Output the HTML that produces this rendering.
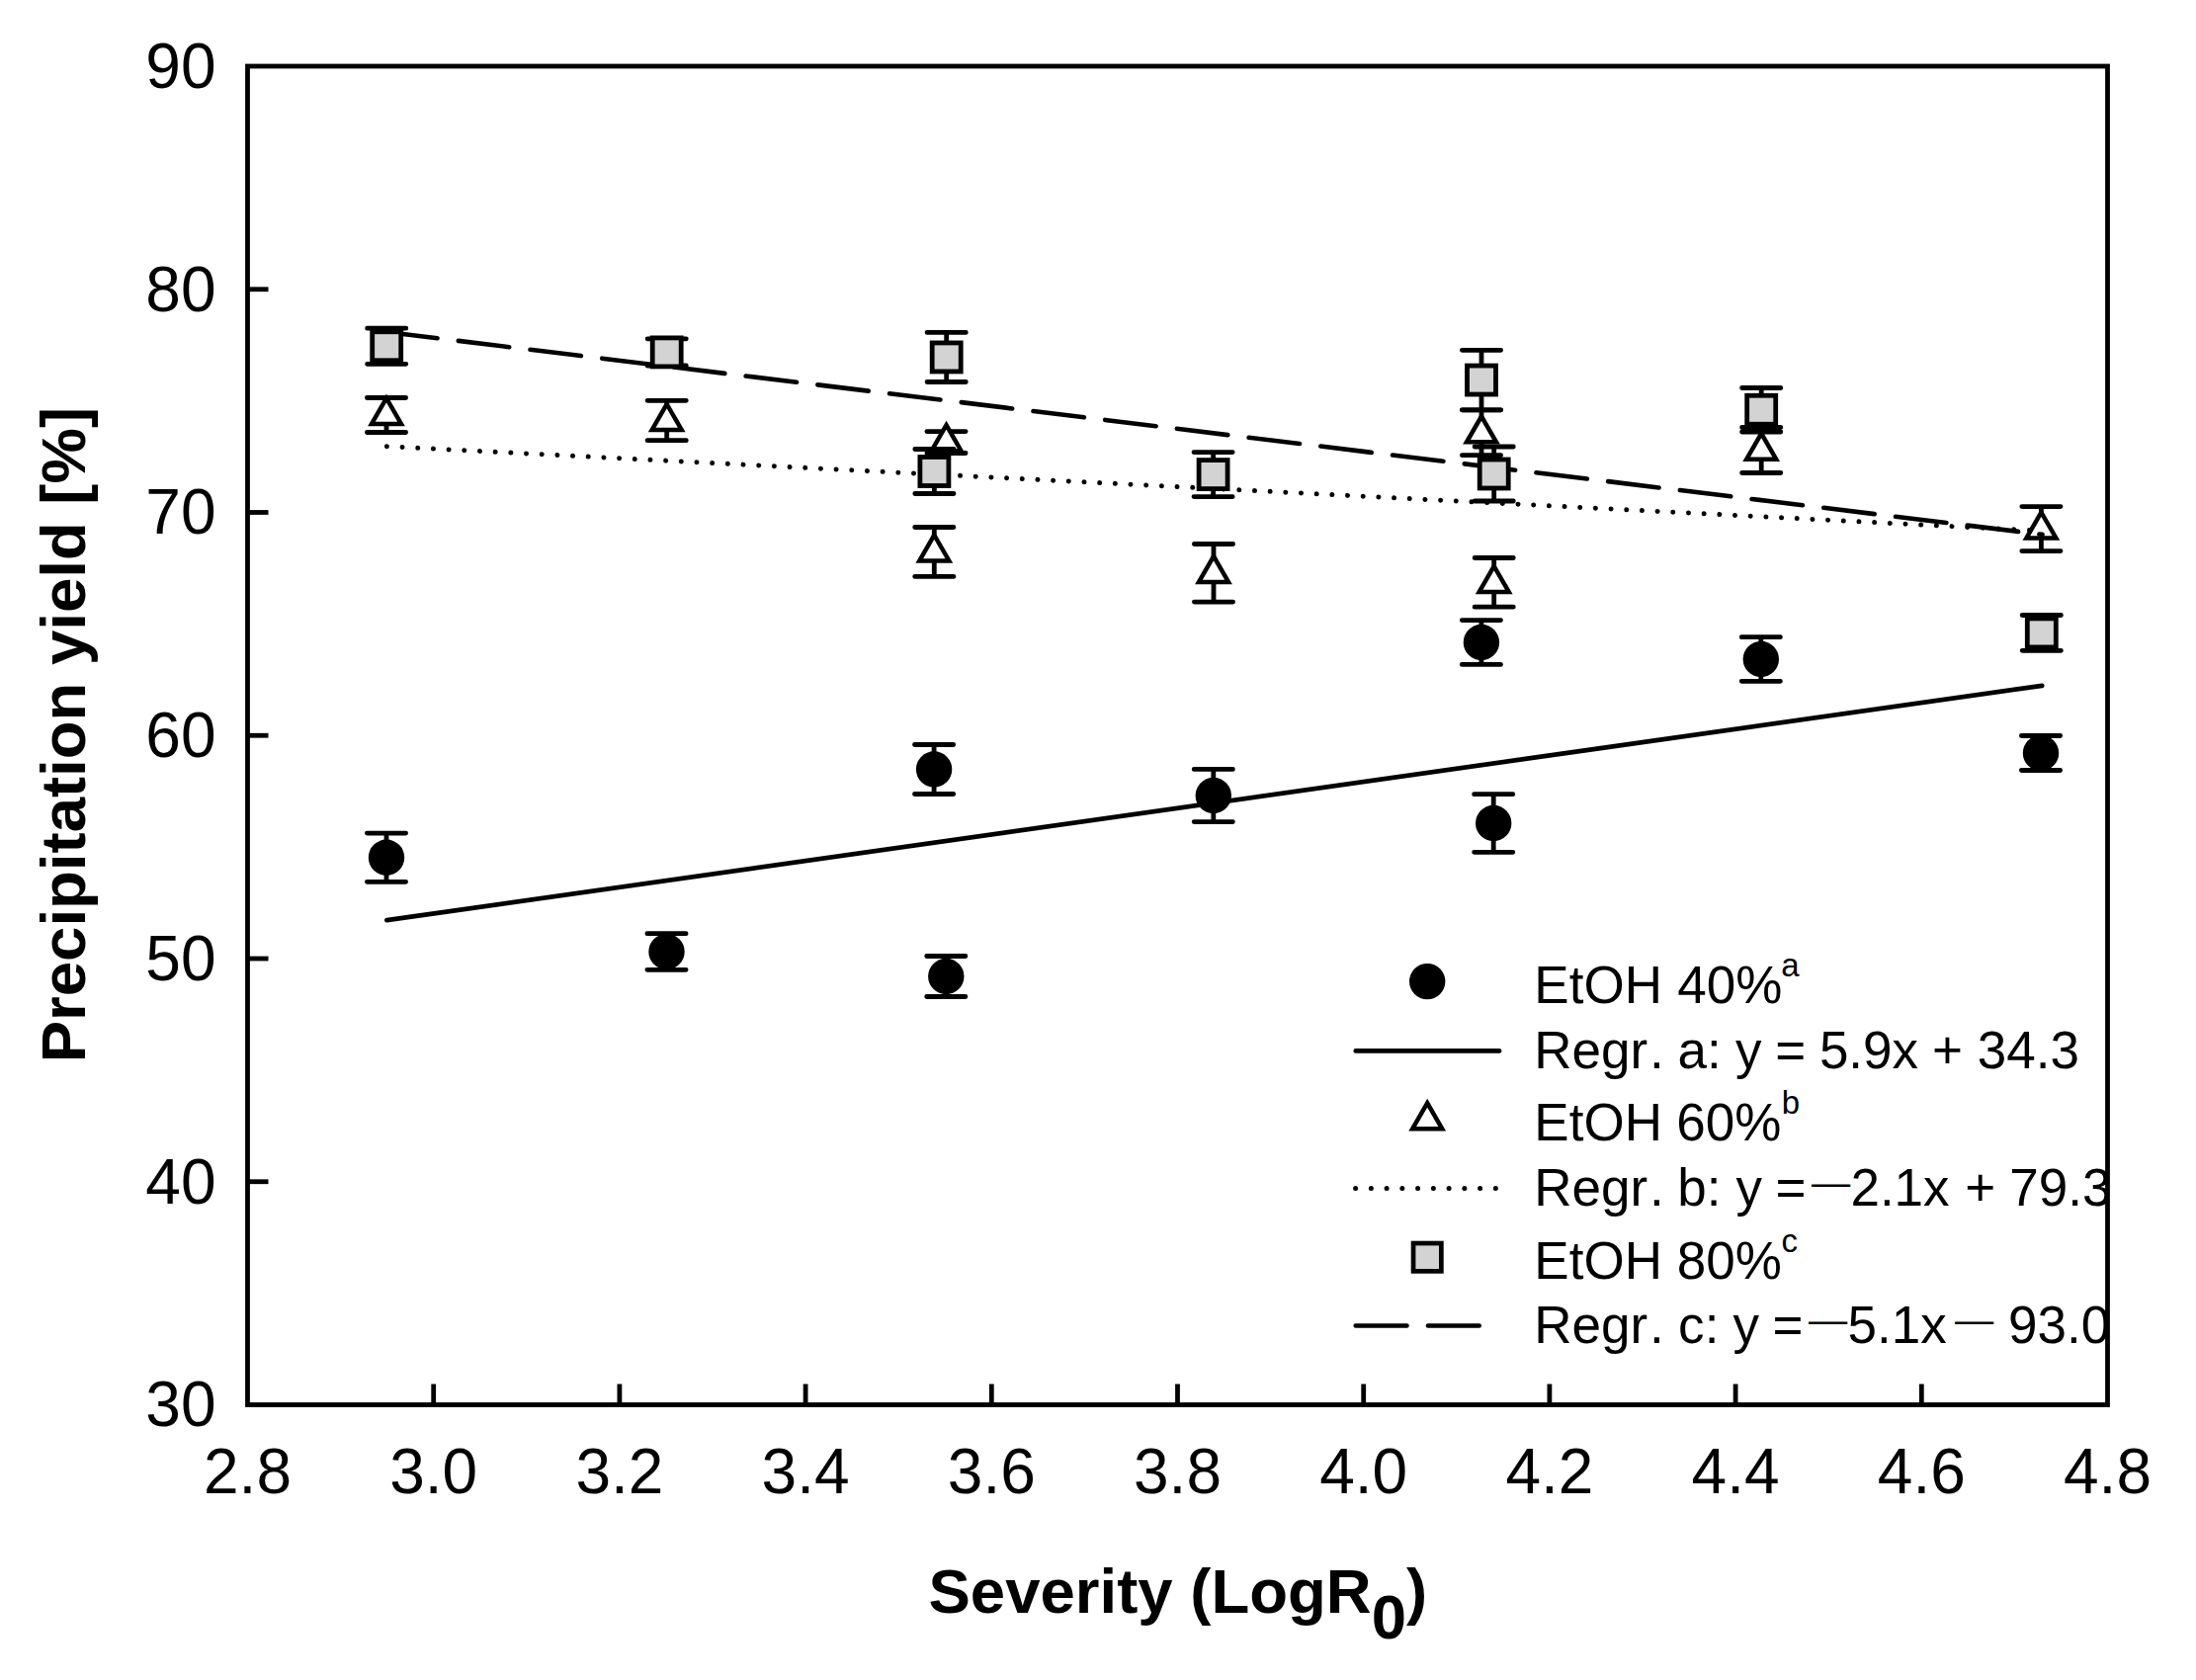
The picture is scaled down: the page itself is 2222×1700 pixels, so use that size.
<!DOCTYPE html>
<html lang="en"><head><meta charset="utf-8"><title>Precipitation yield vs. severity</title>
<style>html,body{margin:0;padding:0;background:#fff}body{width:2222px;height:1700px;overflow:hidden}svg{display:block}text{font-kerning:none;font-family:"Liberation Sans",Arial,Helvetica,sans-serif;fill:#000}</style>
</head><body>
<svg width="2222" height="1700" viewBox="0 0 2222 1700">
<rect x="0" y="0" width="2222" height="1700" fill="#fff"/>
<g fill="none" stroke="#000" stroke-width="4.80">
<rect x="250.50" y="67.00" width="1882.00" height="1354.50"/>
<line x1="438.70" y1="1421.50" x2="438.70" y2="1400.50"/>
<line x1="626.90" y1="1421.50" x2="626.90" y2="1400.50"/>
<line x1="815.10" y1="1421.50" x2="815.10" y2="1400.50"/>
<line x1="1003.30" y1="1421.50" x2="1003.30" y2="1400.50"/>
<line x1="1191.50" y1="1421.50" x2="1191.50" y2="1400.50"/>
<line x1="1379.70" y1="1421.50" x2="1379.70" y2="1400.50"/>
<line x1="1567.90" y1="1421.50" x2="1567.90" y2="1400.50"/>
<line x1="1756.10" y1="1421.50" x2="1756.10" y2="1400.50"/>
<line x1="1944.30" y1="1421.50" x2="1944.30" y2="1400.50"/>
<line x1="250.50" y1="1195.75" x2="271.50" y2="1195.75"/>
<line x1="250.50" y1="970.00" x2="271.50" y2="970.00"/>
<line x1="250.50" y1="744.25" x2="271.50" y2="744.25"/>
<line x1="250.50" y1="518.50" x2="271.50" y2="518.50"/>
<line x1="250.50" y1="292.75" x2="271.50" y2="292.75"/>
</g>
<g font-size="64">
<text x="218.5" y="1443.30" text-anchor="end">30</text>
<text x="218.5" y="1217.55" text-anchor="end">40</text>
<text x="218.5" y="991.80" text-anchor="end">50</text>
<text x="218.5" y="766.05" text-anchor="end">60</text>
<text x="218.5" y="540.30" text-anchor="end">70</text>
<text x="218.5" y="314.55" text-anchor="end">80</text>
<text x="218.5" y="88.80" text-anchor="end">90</text>
<text x="250.50" y="1511.3" text-anchor="middle">2.8</text>
<text x="438.70" y="1511.3" text-anchor="middle">3.0</text>
<text x="626.90" y="1511.3" text-anchor="middle">3.2</text>
<text x="815.10" y="1511.3" text-anchor="middle">3.4</text>
<text x="1003.30" y="1511.3" text-anchor="middle">3.6</text>
<text x="1191.50" y="1511.3" text-anchor="middle">3.8</text>
<text x="1379.70" y="1511.3" text-anchor="middle">4.0</text>
<text x="1567.90" y="1511.3" text-anchor="middle">4.2</text>
<text x="1756.10" y="1511.3" text-anchor="middle">4.4</text>
<text x="1944.30" y="1511.3" text-anchor="middle">4.6</text>
<text x="2132.50" y="1511.3" text-anchor="middle">4.8</text>
</g>
<text x="1191.8" y="1632" text-anchor="middle" font-size="63.5" font-weight="bold">Severity (LogR<tspan dy="25.7">0</tspan><tspan dy="-25.7">)</tspan></text>
<text transform="translate(86,743.6) rotate(-90)" text-anchor="middle" font-size="63.5" font-weight="bold">Precipitation yield [%]</text>
<g fill="none" stroke="#000" stroke-width="4.80" stroke-linecap="round">
<path d="M391.00 843.10V892.30M371.40 843.10H410.60M371.40 892.30H410.60"/>
<path d="M674.50 944.70V981.30M654.90 944.70H694.10M654.90 981.30H694.10"/>
<path d="M945.10 753.50V803.50M925.50 753.50H964.70M925.50 803.50H964.70"/>
<path d="M957.30 967.50V1008.50M937.70 967.50H976.90M937.70 1008.50H976.90"/>
<path d="M1227.80 778.40V831.60M1208.20 778.40H1247.40M1208.20 831.60H1247.40"/>
<path d="M1498.90 627.60V672.40M1479.30 627.60H1518.50M1479.30 672.40H1518.50"/>
<path d="M1511.20 803.70V862.30M1491.60 803.70H1530.80M1491.60 862.30H1530.80"/>
<path d="M1781.80 644.70V689.30M1762.20 644.70H1801.40M1762.20 689.30H1801.40"/>
<path d="M2065.00 744.50V779.50M2045.40 744.50H2084.60M2045.40 779.50H2084.60"/>
</g>
<g fill="#000">
<circle cx="391.00" cy="867.70" r="18.2"/>
<circle cx="674.50" cy="963.00" r="18.2"/>
<circle cx="945.10" cy="778.50" r="18.2"/>
<circle cx="957.30" cy="988.00" r="18.2"/>
<circle cx="1227.80" cy="805.00" r="18.2"/>
<circle cx="1498.90" cy="650.00" r="18.2"/>
<circle cx="1511.20" cy="833.00" r="18.2"/>
<circle cx="1781.80" cy="667.00" r="18.2"/>
<circle cx="2065.00" cy="762.00" r="18.2"/>
</g>
<line x1="391.4" y1="931.2" x2="2066.2" y2="693.8" stroke="#000" stroke-width="4.80" stroke-linecap="round"/>
<line x1="391.4" y1="451.7" x2="2066.6" y2="537.3" stroke="#000" stroke-width="5" stroke-linecap="round" stroke-dasharray="0.01 15.69"/>
<g fill="none" stroke="#000" stroke-width="4.80" stroke-linecap="round">
<path d="M391.00 402.50V437.50M371.40 402.50H410.60M371.40 437.50H410.60"/>
<path d="M674.70 405.30V445.70M655.10 405.30H694.30M655.10 445.70H694.30"/>
<path d="M945.30 533.50V583.40M925.70 533.50H964.90M925.70 583.40H964.90"/>
<path d="M957.50 436.60V458.50M937.90 436.60H977.10M937.90 458.50H977.10"/>
<path d="M1228.00 550.50V609.10M1208.40 550.50H1247.60M1208.40 609.10H1247.60"/>
<path d="M1499.00 414.80V460.70M1479.40 414.80H1518.60M1479.40 460.70H1518.60"/>
<path d="M1511.70 564.50V614.20M1492.10 564.50H1531.30M1492.10 614.20H1531.30"/>
<path d="M1782.20 432.50V478.50M1762.60 432.50H1801.80M1762.60 478.50H1801.80"/>
<path d="M2065.40 512.60V557.60M2045.80 512.60H2085.00M2045.80 557.60H2085.00"/>
</g>
<g fill="#fff" stroke="#000" stroke-width="4.50" stroke-linejoin="miter">
<path d="M391.00 403.00L406.00 429.00L376.00 429.00Z"/>
<path d="M674.70 409.00L689.70 435.00L659.70 435.00Z"/>
<path d="M945.30 541.50L960.30 567.50L930.30 567.50Z"/>
<path d="M957.50 430.20L972.50 456.20L942.50 456.20Z"/>
<path d="M1228.00 562.90L1243.00 588.90L1213.00 588.90Z"/>
<path d="M1499.00 421.30L1514.00 447.30L1484.00 447.30Z"/>
<path d="M1511.70 573.00L1526.70 599.00L1496.70 599.00Z"/>
<path d="M1782.20 438.70L1797.20 464.70L1767.20 464.70Z"/>
<path d="M2065.40 518.50L2080.40 544.50L2050.40 544.50Z"/>
</g>
<line x1="391.1" y1="336.0" x2="2066.6" y2="540.9" stroke="#000" stroke-width="4.60" stroke-linecap="round" stroke-dasharray="51.8 21.45"/>
<g fill="none" stroke="#000" stroke-width="4.80" stroke-linecap="round">
<path d="M391.20 332.20V368.30M371.60 332.20H410.80M371.60 368.30H410.80"/>
<path d="M674.70 342.80V370.00M655.10 342.80H694.30M655.10 370.00H694.30"/>
<path d="M945.40 454.50V499.50M925.80 454.50H965.00M925.80 499.50H965.00"/>
<path d="M957.70 336.40V386.50M938.10 336.40H977.30M938.10 386.50H977.30"/>
<path d="M1227.60 457.60V502.60M1208.00 457.60H1247.20M1208.00 502.60H1247.20"/>
<path d="M1499.00 354.30V414.80M1479.40 354.30H1518.60M1479.40 414.80H1518.60"/>
<path d="M1511.70 452.00V507.00M1492.10 452.00H1531.30M1492.10 507.00H1531.30"/>
<path d="M1782.20 392.50V437.00M1762.60 392.50H1801.80M1762.60 437.00H1801.80"/>
<path d="M2065.80 622.50V658.30M2046.20 622.50H2085.40M2046.20 658.30H2085.40"/>
</g>
<g fill="#d3d3d3" stroke="#000" stroke-width="4.80">
<rect x="376.70" y="335.75" width="29.00" height="29.00"/>
<rect x="660.20" y="341.90" width="29.00" height="29.00"/>
<rect x="930.90" y="462.50" width="29.00" height="29.00"/>
<rect x="943.20" y="346.95" width="29.00" height="29.00"/>
<rect x="1213.10" y="465.60" width="29.00" height="29.00"/>
<rect x="1484.50" y="370.05" width="29.00" height="29.00"/>
<rect x="1497.20" y="465.00" width="29.00" height="29.00"/>
<rect x="1767.70" y="400.25" width="29.00" height="29.00"/>
<rect x="2051.30" y="625.90" width="29.00" height="29.00"/>
</g>
<circle cx="1444.20" cy="993.1" r="18.2" fill="#000"/>
<line x1="1371.8" y1="1063.4" x2="1517" y2="1063.4" stroke="#000" stroke-width="4.80" stroke-linecap="round"/>
<g fill="#fff" stroke="#000" stroke-width="4.5"><path d="M1444.20 1116.20L1459.20 1142.20L1429.20 1142.20Z"/></g>
<line x1="1371.6" y1="1202.5" x2="1514" y2="1202.5" stroke="#000" stroke-width="5" stroke-linecap="round" stroke-dasharray="0.01 15.74"/>
<rect x="1430.05" y="1258.05" width="28.30" height="28.30" fill="#d3d3d3" stroke="#000" stroke-width="4.70"/>
<line x1="1371.7" y1="1341.5" x2="1498" y2="1341.5" stroke="#000" stroke-width="4.6" stroke-linecap="round" stroke-dasharray="51.8 21.45"/>
<g font-size="53">
<text y="1015.10"><tspan x="1552.35">EtOH</tspan> <tspan x="1697.28">40%</tspan><tspan x="1802.30" dy="-27" font-size="33">a</tspan></text>
<text y="1080.80"><tspan x="1552.35">Regr</tspan><tspan x="1669.06">.</tspan> <tspan x="1697.55">a</tspan><tspan x="1727.06">:</tspan> <tspan x="1755.97">y</tspan> <tspan x="1796.31">=</tspan> <tspan x="1840.88">5.9x</tspan> <tspan x="1955.11">+</tspan> <tspan x="2000.78">34.3</tspan></text>
<text y="1154.00"><tspan x="1552.35">EtOH</tspan> <tspan x="1696.31">60%</tspan><tspan x="1802.87" dy="-27" font-size="33">b</tspan></text>
<text y="1219.90"><tspan x="1552.35">Regr</tspan><tspan x="1669.06">.</tspan> <tspan x="1697.18">b</tspan><tspan x="1726.86">:</tspan> <tspan x="1756.57">y</tspan> <tspan x="1796.41">=</tspan> <tspan x="1833.00" dy="-10.05" font-size="39.2">—</tspan><tspan x="1872.43" dy="10.05">2.1x</tspan> <tspan x="1988.31">+</tspan> <tspan x="2033.28">79.3</tspan></text>
<text y="1293.80"><tspan x="1552.35">EtOH</tspan> <tspan x="1696.70">80%</tspan><tspan x="1802.60" dy="-27" font-size="33">c</tspan></text>
<text y="1359.30"><tspan x="1552.35">Regr</tspan><tspan x="1669.06">.</tspan> <tspan x="1697.95">c</tspan><tspan x="1724.86">:</tspan> <tspan x="1753.57">y</tspan> <tspan x="1793.41">=</tspan> <tspan x="1830.10" dy="-10.05" font-size="39.2">—</tspan><tspan x="1869.58" dy="10.05">5.1x</tspan> <tspan x="1978.00" dy="-10.05" font-size="39.2">—</tspan> <tspan x="2032.12" dy="10.05">93.0</tspan></text>
</g>
</svg></body></html>
